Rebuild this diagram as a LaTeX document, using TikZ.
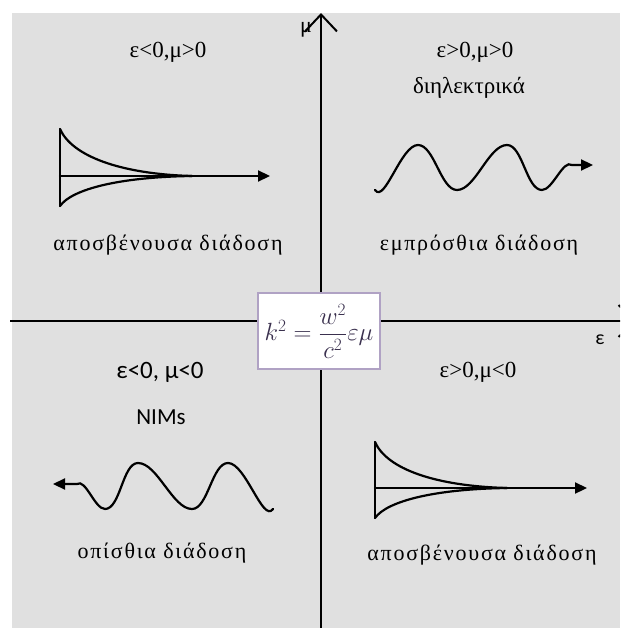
\documentclass[tikz,border=0pt]{standalone}
\usepackage{fontspec}
\usepackage{amsmath}
\setmainfont{Liberation Serif}
\newfontfamily\calibri{Carlito}
\newfontfamily\spaced{Liberation Serif}[LetterSpace=8]
\usetikzlibrary{arrows.meta,positioning}
\definecolor{bggray}{RGB}{224,224,224}
\definecolor{boxline}{RGB}{176,162,196}
\definecolor{eqcolor}{RGB}{58,48,78}

\begin{document}
\begin{tikzpicture}[x=1pt,y=-1pt,
    axis/.style={line width=2.5pt, -{Straight Barb[length=17pt,width=32pt,line width=2pt]}},
    wave/.style={line width=2.2pt, line cap=round, looseness=0.7},
    wavetip/.style={-{Triangle[length=12pt,width=11pt]}},
    quad/.style={font=\fontsize{23}{26}\selectfont},
    caption/.style={font=\spaced\fontsize{22}{24}\selectfont}]
    \useasboundingbox (0,0) rectangle (620,628);
    \fill[bggray] (12,13) rectangle (620,628);
    \clip (0,0) rectangle (620,628);
    % axes
    \coordinate (ybot) at (321,628);
    \coordinate (ytop) at (321,13);
    \coordinate (xleft) at (10,321);
    \coordinate (xright) at (637,321);
    \draw[axis] (ybot) -- (ytop);
    \draw[axis] (xleft) -- (xright);
    \node[font=\fontsize{22}{24}\selectfont] (mulabel) at (306,30) {μ};
    \node[font=\calibri\fontsize{20}{22}\selectfont] (epslabel) at (600,340) {ε};
    % quadrant titles
    \node[quad] (q1) at (168,52) {ε<0,μ>0};
    \node[quad] (q2) at (475,52) {ε>0,μ>0};
    \node[font=\fontsize{23}{26}\selectfont] (diel) at (469,88) {διηλεκτρικά};
    \node[font=\calibri\fontsize{25}{28}\selectfont] (q3) at (160,372) {ε<0, μ<0};
    \node[font=\calibri\fontsize{23}{26}\selectfont] (nims) at (161,417) {NIMs};
    \node[quad] (q4) at (478,372) {ε>0,μ<0};
    % captions
    \node[caption] (cap1) at (168,245) {αποσβένουσα διάδοση};
    \node[caption] (cap2) at (479,245) {εμπρόσθια διάδοση};
    \node[caption] (cap3) at (162,553) {οπίσθια διάδοση};
    \node[caption] (cap4) at (482,555) {αποσβένουσα διάδοση};
    % decaying wave, top left
    \coordinate (d1top) at (60,129);
    \coordinate (d1bot) at (60,206);
    \coordinate (d1mid) at (60,176);
    \coordinate (d1tip) at (270,176);
    \draw[wave] (d1top) -- (d1bot);
    \draw[wave, wavetip] (d1mid) -- (d1tip);
    \draw[wave] (d1top) .. controls (72,156) and (120,174) .. (192,176);
    \draw[wave] (d1bot) .. controls (72,189) and (120,177) .. (192,176);
    % decaying wave, bottom right
    \coordinate (d2top) at (375,442);
    \coordinate (d2bot) at (375,518);
    \coordinate (d2mid) at (375,488);
    \coordinate (d2tip) at (587,488);
    \draw[wave] (d2top) -- (d2bot);
    \draw[wave, wavetip] (d2mid) -- (d2tip);
    \draw[wave] (d2top) .. controls (387,469) and (435,486) .. (507,488);
    \draw[wave] (d2bot) .. controls (387,501) and (435,489) .. (507,488);
    % forward wave, top right
    \coordinate (w1start) at (375,190);
    \coordinate (w1end) at (593,165);
    \draw[wave, wavetip] (w1start) to[out=-55,in=180] (418,145)
        to[out=0,in=180] (457,190) to[out=0,in=180] (507,145)
        to[out=0,in=180] (542,190) to[out=0,in=145] (572,165) -- (w1end);
    % backward wave, bottom left
    \coordinate (w2start) at (273,509);
    \coordinate (w2end) at (53,484);
    \draw[wave, wavetip] (w2start) to[out=-125,in=0] (228,463)
        to[out=180,in=0] (192,509) to[out=180,in=0] (138,463)
        to[out=180,in=0] (105,509) to[out=180,in=35] (77,484) -- (w2end);
    % dispersion relation
    \node[draw=boxline, line width=1.5pt, fill=white, minimum width=122pt, minimum height=76pt,
        inner sep=0pt, text=eqcolor, font=\fontsize{23}{27}\selectfont] (disp) at (319,331)
        {$k^2=\dfrac{w^2}{c^2}\varepsilon\mu$};
\end{tikzpicture}
\end{document}
